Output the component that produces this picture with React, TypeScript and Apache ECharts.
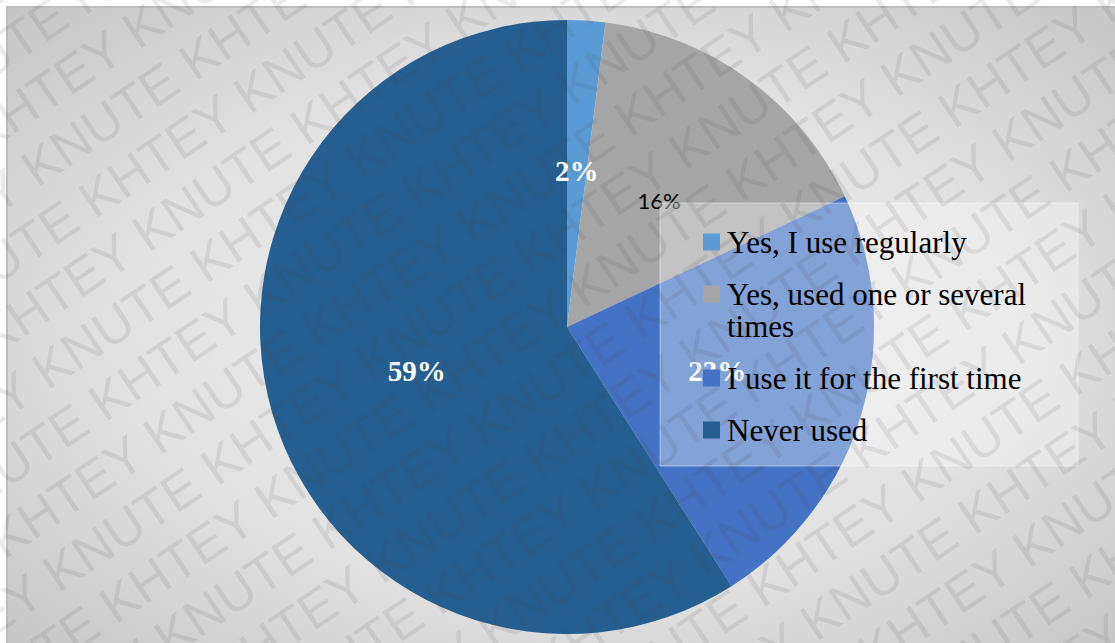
import React, { useEffect, useRef } from "react";
import * as echarts from "echarts";

const categories = [
  "Yes, I use regularly",
  "Yes, used one or several times",
  "I use it for the first time",
  "Never used",
];
const shares = [2, 16, 23, 59];
const sliceColors = ["#5B9BD5", "#A5A5A5", "#4472C4", "#255E91"];
const watermarkWords = ["KNUTE", "KHTEY"];

const serifLabel = {
  color: "#ffffff",
  fontFamily: '"Liberation Serif", "Times New Roman", serif',
  fontWeight: "bold" as const,
  fontSize: 29,
};
const sansLabel = {
  color: "#000000",
  fontFamily: 'Lato, "Noto Sans", sans-serif',
  fontWeight: "normal" as const,
  fontSize: 22,
};
const labelStyles = [serifLabel, sansLabel, serifLabel, serifLabel];

function wrapText(text: string, font: string, maxWidth: number): string[] {
  const canvas = document.createElement("canvas");
  const ctx = canvas.getContext("2d");
  if (!ctx) return [text];
  ctx.font = font;
  const words = text.split(" ");
  const lines: string[] = [];
  let cur = "";
  for (const w of words) {
    const test = cur ? cur + " " + w : w;
    if (ctx.measureText(test).width > maxWidth && cur) {
      lines.push(cur);
      cur = w;
    } else {
      cur = test;
    }
  }
  if (cur) lines.push(cur);
  return lines;
}

export default function App() {
  const ref = useRef<HTMLDivElement>(null);

  useEffect(() => {
    document.body.style.margin = "0";
    const chart = echarts.init(ref.current!, null, { renderer: "svg" });

    const elements: any[] = [];

    // chart area background with radial gradient and frame
    elements.push({
      type: "rect",
      z: -10,
      silent: true,
      shape: { x: 7, y: 7, width: 1120, height: 650 },
      style: {
        fill: new echarts.graphic.RadialGradient(0.5, 0.5, 0.72, [
          { offset: 0, color: "#efefef" },
          { offset: 0.55, color: "#e2e2e2" },
          { offset: 1, color: "#c4c4c4" },
        ]),
        stroke: "#bdbdbd",
        lineWidth: 2,
      },
    });

    // legend box
    elements.push({
      type: "rect",
      z: 40,
      silent: true,
      shape: { x: 660, y: 203, width: 418, height: 263 },
      style: {
        fill: "rgba(255,255,255,0.34)",
        stroke: "rgba(255,255,255,0.45)",
        lineWidth: 1,
      },
    });

    // watermark
    const wmFont = '52px "Liberation Sans", Arial, sans-serif';
    const canvas = document.createElement("canvas");
    const ctx = canvas.getContext("2d");
    let period = 378;
    if (ctx) {
      ctx.font = wmFont;
      period = ctx.measureText(watermarkWords.join(" ") + " ").width;
    }
    const ang = (34 * Math.PI) / 180;
    const ux = Math.cos(ang);
    const uy = -Math.sin(ang);
    const nx = Math.sin(ang);
    const ny = Math.cos(ang);
    const wmLine = Array.from({ length: 16 }, (_, i) => watermarkWords[i % 2]).join(" ");
    const baseX = 167;
    const baseY = 460;
    const rowGap = 58;
    const rowShift = 28 + period / 2;
    for (let k = -14; k <= 14; k++) {
      const px = baseX + k * rowGap * nx;
      const py = baseY + k * rowGap * ny;
      let t = (k * rowShift) % period;
      t -= period * 4;
      elements.push({
        type: "text",
        z: 50,
        silent: true,
        x: px + t * ux,
        y: py + t * uy,
        rotation: ang,
        style: {
          text: wmLine,
          font: wmFont,
          fill: "rgba(70,70,70,0.115)",
          verticalAlign: "bottom",
          align: "left",
        },
      });
    }

    // legend items
    const legendFont = '31px "Liberation Serif", "Times New Roman", serif';
    const lineH = 32;
    let rowY = 242;
    categories.forEach((name, i) => {
      const lines = wrapText(name, legendFont, 340);
      elements.push({
        type: "rect",
        z: 60,
        silent: true,
        shape: { x: 703, y: rowY - 8.5, width: 17, height: 17 },
        style: { fill: sliceColors[i] },
      });
      elements.push({
        type: "text",
        z: 60,
        silent: true,
        x: 727,
        y: rowY - lineH / 2,
        style: {
          text: lines.join("\n"),
          font: legendFont,
          fill: "#000000",
          lineHeight: lineH,
          verticalAlign: "top",
          align: "left",
        },
      });
      rowY += lines.length * lineH + 20;
    });

    chart.setOption({
      animation: false,
      backgroundColor: "#ffffff",
      series: [
        {
          type: "pie",
          center: [567, 327],
          radius: [0, 307],
          startAngle: 90,
          clockwise: true,
          avoidLabelOverlap: false,
          silent: true,
          itemStyle: { borderWidth: 0 },
          label: {
            show: true,
            position: "inside",
            formatter: "{c}%",
          },
          labelLine: { show: false },
          emphasis: { disabled: true },
          data: categories.map((name, i) => ({
            name,
            value: shares[i],
            itemStyle: { color: sliceColors[i] },
            label: labelStyles[i],
          })),
        },
      ],
      graphic: { elements },
    });

    return () => chart.dispose();
  }, []);

  return <div ref={ref} style={{ width: 1115, height: 643 }} />;
}
